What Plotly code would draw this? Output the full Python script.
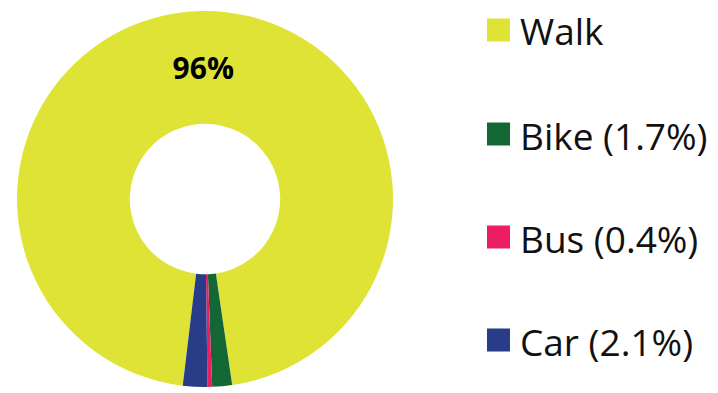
import plotly.graph_objects as go

# Travel mode share (%)
modes = ["Walk", "Bike", "Bus", "Car"]
shares = [95.8, 1.7, 0.4, 2.1]
colors = ["#DFE336", "#136734", "#EB1E63", "#283C87"]
slice_text = ["<b>96%</b>", "", "", ""]
legend_labels = ["Walk"] + [f"{m} ({s}%)" for m, s in zip(modes[1:], shares[1:])]

W, H = 718, 393
cx, cy, R = 205, 199, 188

fig = go.Figure(
    go.Pie(
        labels=modes,
        values=shares,
        text=slice_text,
        textinfo="text",
        textposition="inside",
        insidetextorientation="horizontal",
        textfont=dict(family="Open Sans", size=30, color="black"),
        marker=dict(colors=colors, line=dict(width=0)),
        hole=0.4,
        sort=False,
        direction="clockwise",
        rotation=186.8,
        showlegend=False,
        hoverinfo="label+percent",
        domain=dict(x=[(cx - R) / W, (cx + R) / W], y=[1 - (cy + R) / H, 1 - (cy - R) / H]),
    )
)

# Legend: colour swatch + label, one row per mode
row_y = [30, 134, 237, 340]
sq = 23
x0 = 487
shapes, annotations = [], []
for lab, col, yc in zip(legend_labels, colors, row_y):
    shapes.append(dict(
        type="rect", xref="paper", yref="paper",
        x0=x0 / W, x1=(x0 + sq) / W,
        y0=1 - (yc + sq / 2) / H, y1=1 - (yc - sq / 2) / H,
        fillcolor=col, line=dict(width=0),
    ))
    annotations.append(dict(
        xref="paper", yref="paper", x=(x0 + sq + 8) / W, y=1 - (yc + 1) / H,
        xanchor="left", yanchor="middle", showarrow=False,
        text=lab, font=dict(family="Open Sans", size=37, color="#111111"),
    ))

fig.update_layout(
    width=W, height=H,
    margin=dict(l=0, r=0, t=0, b=0),
    paper_bgcolor="white", plot_bgcolor="white",
    shapes=shapes, annotations=annotations,
)

fig.write_html("out.html")
